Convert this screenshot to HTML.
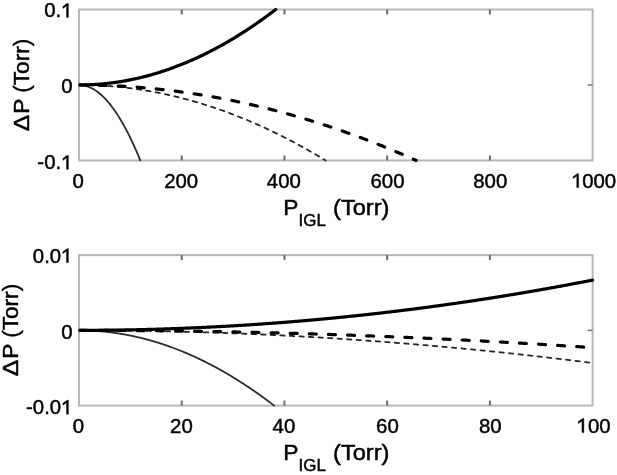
<!DOCTYPE html>
<html><head><meta charset="utf-8"><style>
html,body{margin:0;padding:0;background:#fff;width:617px;height:475px;overflow:hidden}
svg{display:block;filter:blur(0.55px)}
text{font-family:"Liberation Sans",sans-serif;fill:#000;stroke:#000;stroke-width:0.45px}
</style></head><body>
<svg width="617" height="475" viewBox="0 0 617 475">
<rect width="617" height="475" fill="#fff"/>
<clipPath id="c9"><rect x="78.6" y="3.5" width="521.60" height="162.95"/></clipPath>
<rect x="79" y="9.5" width="513.60" height="150.95" fill="none" stroke="#b7b7b7" stroke-width="2.0"/>
<line x1="181.72" y1="160.45" x2="181.72" y2="155.45" stroke="#666666" stroke-width="1.9"/>
<line x1="181.72" y1="9.5" x2="181.72" y2="14.5" stroke="#666666" stroke-width="1.9"/>
<line x1="284.44" y1="160.45" x2="284.44" y2="155.45" stroke="#666666" stroke-width="1.9"/>
<line x1="284.44" y1="9.5" x2="284.44" y2="14.5" stroke="#666666" stroke-width="1.9"/>
<line x1="387.16" y1="160.45" x2="387.16" y2="155.45" stroke="#666666" stroke-width="1.9"/>
<line x1="387.16" y1="9.5" x2="387.16" y2="14.5" stroke="#666666" stroke-width="1.9"/>
<line x1="489.88" y1="160.45" x2="489.88" y2="155.45" stroke="#666666" stroke-width="1.9"/>
<line x1="489.88" y1="9.5" x2="489.88" y2="14.5" stroke="#666666" stroke-width="1.9"/>
<line x1="79" y1="84.97" x2="84.0" y2="84.97" stroke="#666666" stroke-width="1.9"/>
<line x1="592.6" y1="84.97" x2="587.6" y2="84.97" stroke="#7c7c7c" stroke-width="1.6"/>
<g clip-path="url(#c9)" fill="none" stroke="#000" stroke-linejoin="round" stroke-linecap="round"><polyline points="79.00,84.97 79.64,84.98 80.29,85.01 80.93,85.05 81.57,85.11 82.21,85.18 82.86,85.27 83.50,85.38 84.14,85.51 84.79,85.65 85.43,85.80 86.07,85.98 86.71,86.17 87.36,86.38 88.00,86.60 88.64,86.84 89.28,87.10 89.93,87.37 90.57,87.66 91.21,87.97 91.86,88.29 92.50,88.64 93.14,88.99 93.78,89.37 94.43,89.76 95.07,90.16 95.71,90.59 96.36,91.03 97.00,91.48 97.64,91.95 98.28,92.44 98.93,92.95 99.57,93.47 100.21,94.01 100.86,94.57 101.50,95.14 102.14,95.73 102.78,96.34 103.43,96.96 104.07,97.60 104.71,98.25 105.35,98.93 106.00,99.62 106.64,100.32 107.28,101.04 107.93,101.78 108.57,102.54 109.21,103.31 109.85,104.10 110.50,104.90 111.14,105.72 111.78,106.56 112.43,107.42 113.07,108.29 113.71,109.18 114.35,110.08 115.00,111.00 115.64,111.94 116.28,112.89 116.93,113.87 117.57,114.85 118.21,115.86 118.85,116.88 119.50,117.92 120.14,118.97 120.78,120.04 121.43,121.13 122.07,122.23 122.71,123.35 123.35,124.49 124.00,125.64 124.64,126.81 125.28,128.00 125.92,129.20 126.57,130.42 127.21,131.66 127.85,132.91 128.50,134.18 129.14,135.47 129.78,136.77 130.42,138.09 131.07,139.43 131.71,140.78 132.35,142.15 133.00,143.54 133.64,144.94 134.28,146.36 134.92,147.79 135.57,149.25 136.21,150.71 136.85,152.20 137.50,153.70 138.14,155.22 138.78,156.76 139.42,158.31 140.07,159.88 140.30,160.45" stroke-width="1.8" stroke="#2a2a2a"/><polyline points="79.00,84.97 79.64,84.98 80.29,84.98 80.93,84.98 81.57,84.98 82.21,84.99 82.86,84.99 83.50,85.00 84.14,85.01 84.79,85.02 85.43,85.03 86.07,85.04 86.71,85.05 87.36,85.06 88.00,85.08 88.64,85.09 89.28,85.11 89.93,85.12 90.57,85.14 91.21,85.16 91.86,85.18 92.50,85.20 93.14,85.22 93.78,85.25 94.43,85.27 95.07,85.30 95.71,85.32 96.36,85.35 97.00,85.38 97.64,85.41 98.28,85.44 98.93,85.47 99.57,85.50 100.21,85.53 100.86,85.57 101.50,85.60 102.14,85.64 102.78,85.68 103.43,85.72 104.07,85.76 104.71,85.80 105.35,85.84 106.00,85.88 106.64,85.92 107.28,85.97 107.93,86.01 108.57,86.06 109.21,86.11 109.85,86.16 110.50,86.21 111.14,86.26 111.78,86.31 112.43,86.36 113.07,86.42 113.71,86.47 114.35,86.53 115.00,86.58 115.64,86.64 116.28,86.70 116.93,86.76 117.57,86.82 118.21,86.88 118.85,86.95 119.50,87.01 120.14,87.08 120.78,87.14 121.43,87.21 122.07,87.28 122.71,87.35 123.35,87.42 124.00,87.49 124.64,87.56 125.28,87.63 125.92,87.71 126.57,87.78 127.21,87.86 127.85,87.94 128.50,88.02 129.14,88.10 129.78,88.18 130.42,88.26 131.07,88.34 131.71,88.43 132.35,88.51 133.00,88.60 133.64,88.68 134.28,88.77 134.92,88.86 135.57,88.95 136.21,89.04 136.85,89.13 137.50,89.22 138.14,89.32 138.78,89.41 139.42,89.51 140.07,89.61 140.71,89.70 141.35,89.80 141.99,89.90 142.64,90.00 143.28,90.11 143.92,90.21 144.57,90.31 145.21,90.42 145.85,90.52 146.49,90.63 147.14,90.74 147.78,90.85 148.42,90.96 149.07,91.07 149.71,91.18 150.35,91.30 150.99,91.41 151.64,91.53 152.28,91.64 152.92,91.76 153.57,91.88 154.21,92.00 154.85,92.12 155.49,92.24 156.14,92.36 156.78,92.49 157.42,92.61 158.06,92.74 158.71,92.86 159.35,92.99 159.99,93.12 160.64,93.25 161.28,93.38 161.92,93.51 162.56,93.65 163.21,93.78 163.85,93.92 164.49,94.05 165.14,94.19 165.78,94.33 166.42,94.47 167.06,94.61 167.71,94.75 168.35,94.89 168.99,95.03 169.64,95.18 170.28,95.32 170.92,95.47 171.56,95.61 172.21,95.76 172.85,95.91 173.49,96.06 174.13,96.21 174.78,96.37 175.42,96.52 176.06,96.67 176.71,96.83 177.35,96.99 177.99,97.14 178.63,97.30 179.28,97.46 179.92,97.62 180.56,97.78 181.21,97.95 181.85,98.11 182.49,98.27 183.13,98.44 183.78,98.61 184.42,98.78 185.06,98.94 185.71,99.11 186.35,99.28 186.99,99.46 187.63,99.63 188.28,99.80 188.92,99.98 189.56,100.15 190.21,100.33 190.85,100.51 191.49,100.69 192.13,100.87 192.78,101.05 193.42,101.23 194.06,101.42 194.70,101.60 195.35,101.78 195.99,101.97 196.63,102.16 197.28,102.35 197.92,102.54 198.56,102.73 199.20,102.92 199.85,103.11 200.49,103.30 201.13,103.50 201.78,103.69 202.42,103.89 203.06,104.09 203.70,104.29 204.35,104.49 204.99,104.69 205.63,104.89 206.28,105.09 206.92,105.29 207.56,105.50 208.20,105.70 208.85,105.91 209.49,106.12 210.13,106.33 210.77,106.54 211.42,106.75 212.06,106.96 212.70,107.17 213.35,107.39 213.99,107.60 214.63,107.82 215.27,108.04 215.92,108.25 216.56,108.47 217.20,108.69 217.85,108.91 218.49,109.14 219.13,109.36 219.77,109.58 220.42,109.81 221.06,110.04 221.70,110.26 222.35,110.49 222.99,110.72 223.63,110.95 224.27,111.18 224.92,111.41 225.56,111.65 226.20,111.88 226.84,112.12 227.49,112.35 228.13,112.59 228.77,112.83 229.42,113.07 230.06,113.31 230.70,113.55 231.34,113.80 231.99,114.04 232.63,114.28 233.27,114.53 233.92,114.78 234.56,115.02 235.20,115.27 235.84,115.52 236.49,115.77 237.13,116.03 237.77,116.28 238.42,116.53 239.06,116.79 239.70,117.04 240.34,117.30 240.99,117.56 241.63,117.82 242.27,118.08 242.91,118.34 243.56,118.60 244.20,118.86 244.84,119.13 245.49,119.39 246.13,119.66 246.77,119.93 247.41,120.20 248.06,120.47 248.70,120.74 249.34,121.01 249.99,121.28 250.63,121.55 251.27,121.83 251.91,122.10 252.56,122.38 253.20,122.66 253.84,122.94 254.49,123.22 255.13,123.50 255.77,123.78 256.41,124.06 257.06,124.34 257.70,124.63 258.34,124.91 258.98,125.20 259.63,125.49 260.27,125.78 260.91,126.07 261.56,126.36 262.20,126.65 262.84,126.94 263.48,127.24 264.13,127.53 264.77,127.83 265.41,128.13 266.06,128.42 266.70,128.72 267.34,129.02 267.98,129.33 268.63,129.63 269.27,129.93 269.91,130.23 270.56,130.54 271.20,130.85 271.84,131.15 272.48,131.46 273.13,131.77 273.77,132.08 274.41,132.39 275.06,132.71 275.70,133.02 276.34,133.33 276.98,133.65 277.63,133.97 278.27,134.28 278.91,134.60 279.55,134.92 280.20,135.24 280.84,135.56 281.48,135.89 282.13,136.21 282.77,136.54 283.41,136.86 284.05,137.19 284.70,137.52 285.34,137.85 285.98,138.17 286.63,138.51 287.27,138.84 287.91,139.17 288.55,139.50 289.20,139.84 289.84,140.18 290.48,140.51 291.13,140.85 291.77,141.19 292.41,141.53 293.05,141.87 293.70,142.21 294.34,142.56 294.98,142.90 295.62,143.25 296.27,143.59 296.91,143.94 297.55,144.29 298.20,144.64 298.84,144.99 299.48,145.34 300.12,145.69 300.77,146.05 301.41,146.40 302.05,146.76 302.70,147.11 303.34,147.47 303.98,147.83 304.62,148.19 305.27,148.55 305.91,148.91 306.55,149.27 307.20,149.64 307.84,150.00 308.48,150.37 309.12,150.74 309.77,151.10 310.41,151.47 311.05,151.84 311.69,152.21 312.34,152.59 312.98,152.96 313.62,153.33 314.27,153.71 314.91,154.08 315.55,154.46 316.19,154.84 316.84,155.22 317.48,155.60 318.12,155.98 318.77,156.36 319.41,156.74 320.05,157.13 320.69,157.51 321.34,157.90 321.98,158.29 322.62,158.68 323.27,159.07 323.91,159.46 324.55,159.85 325.19,160.24 325.54,160.45" stroke-width="1.8" stroke="#262626" stroke-dasharray="4.4 5.16" stroke-dashoffset="-0.6" stroke-linecap="round"/><polyline points="79.00,84.97 79.64,84.98 80.29,84.98 80.93,84.98 81.57,84.98 82.21,84.98 82.86,84.98 83.50,84.99 84.14,84.99 84.79,85.00 85.43,85.00 86.07,85.01 86.71,85.01 87.36,85.02 88.00,85.03 88.64,85.04 89.28,85.05 89.93,85.05 90.57,85.06 91.21,85.07 91.86,85.08 92.50,85.10 93.14,85.11 93.78,85.12 94.43,85.13 95.07,85.15 95.71,85.16 96.36,85.17 97.00,85.19 97.64,85.21 98.28,85.22 98.93,85.24 99.57,85.26 100.21,85.27 100.86,85.29 101.50,85.31 102.14,85.33 102.78,85.35 103.43,85.37 104.07,85.39 104.71,85.41 105.35,85.44 106.00,85.46 106.64,85.48 107.28,85.51 107.93,85.53 108.57,85.56 109.21,85.58 109.85,85.61 110.50,85.63 111.14,85.66 111.78,85.69 112.43,85.72 113.07,85.75 113.71,85.77 114.35,85.80 115.00,85.84 115.64,85.87 116.28,85.90 116.93,85.93 117.57,85.96 118.21,86.00 118.85,86.03 119.50,86.06 120.14,86.10 120.78,86.13 121.43,86.17 122.07,86.21 122.71,86.24 123.35,86.28 124.00,86.32 124.64,86.36 125.28,86.40 125.92,86.44 126.57,86.48 127.21,86.52 127.85,86.56 128.50,86.60 129.14,86.64 129.78,86.69 130.42,86.73 131.07,86.77 131.71,86.82 132.35,86.86 133.00,86.91 133.64,86.96 134.28,87.00 134.92,87.05 135.57,87.10 136.21,87.15 136.85,87.20 137.50,87.25 138.14,87.30 138.78,87.35 139.42,87.40 140.07,87.45 140.71,87.50 141.35,87.56 141.99,87.61 142.64,87.66 143.28,87.72 143.92,87.77 144.57,87.83 145.21,87.88 145.85,87.94 146.49,88.00 147.14,88.06 147.78,88.12 148.42,88.17 149.07,88.23 149.71,88.29 150.35,88.35 150.99,88.42 151.64,88.48 152.28,88.54 152.92,88.60 153.57,88.67 154.21,88.73 154.85,88.79 155.49,88.86 156.14,88.92 156.78,88.99 157.42,89.06 158.06,89.12 158.71,89.19 159.35,89.26 159.99,89.33 160.64,89.40 161.28,89.47 161.92,89.54 162.56,89.61 163.21,89.68 163.85,89.75 164.49,89.83 165.14,89.90 165.78,89.97 166.42,90.05 167.06,90.12 167.71,90.20 168.35,90.27 168.99,90.35 169.64,90.43 170.28,90.51 170.92,90.58 171.56,90.66 172.21,90.74 172.85,90.82 173.49,90.90 174.13,90.98 174.78,91.06 175.42,91.15 176.06,91.23 176.71,91.31 177.35,91.40 177.99,91.48 178.63,91.56 179.28,91.65 179.92,91.74 180.56,91.82 181.21,91.91 181.85,92.00 182.49,92.08 183.13,92.17 183.78,92.26 184.42,92.35 185.06,92.44 185.71,92.53 186.35,92.62 186.99,92.72 187.63,92.81 188.28,92.90 188.92,93.00 189.56,93.09 190.21,93.18 190.85,93.28 191.49,93.37 192.13,93.47 192.78,93.57 193.42,93.67 194.06,93.76 194.70,93.86 195.35,93.96 195.99,94.06 196.63,94.16 197.28,94.26 197.92,94.36 198.56,94.46 199.20,94.57 199.85,94.67 200.49,94.77 201.13,94.88 201.78,94.98 202.42,95.09 203.06,95.19 203.70,95.30 204.35,95.40 204.99,95.51 205.63,95.62 206.28,95.73 206.92,95.84 207.56,95.95 208.20,96.06 208.85,96.17 209.49,96.28 210.13,96.39 210.77,96.50 211.42,96.61 212.06,96.73 212.70,96.84 213.35,96.96 213.99,97.07 214.63,97.19 215.27,97.30 215.92,97.42 216.56,97.54 217.20,97.65 217.85,97.77 218.49,97.89 219.13,98.01 219.77,98.13 220.42,98.25 221.06,98.37 221.70,98.49 222.35,98.61 222.99,98.74 223.63,98.86 224.27,98.98 224.92,99.11 225.56,99.23 226.20,99.36 226.84,99.48 227.49,99.61 228.13,99.74 228.77,99.87 229.42,99.99 230.06,100.12 230.70,100.25 231.34,100.38 231.99,100.51 232.63,100.64 233.27,100.77 233.92,100.91 234.56,101.04 235.20,101.17 235.84,101.30 236.49,101.44 237.13,101.57 237.77,101.71 238.42,101.84 239.06,101.98 239.70,102.12 240.34,102.26 240.99,102.39 241.63,102.53 242.27,102.67 242.91,102.81 243.56,102.95 244.20,103.09 244.84,103.23 245.49,103.37 246.13,103.52 246.77,103.66 247.41,103.80 248.06,103.95 248.70,104.09 249.34,104.24 249.99,104.38 250.63,104.53 251.27,104.68 251.91,104.82 252.56,104.97 253.20,105.12 253.84,105.27 254.49,105.42 255.13,105.57 255.77,105.72 256.41,105.87 257.06,106.02 257.70,106.17 258.34,106.33 258.98,106.48 259.63,106.63 260.27,106.79 260.91,106.94 261.56,107.10 262.20,107.25 262.84,107.41 263.48,107.57 264.13,107.73 264.77,107.88 265.41,108.04 266.06,108.20 266.70,108.36 267.34,108.52 267.98,108.68 268.63,108.84 269.27,109.01 269.91,109.17 270.56,109.33 271.20,109.50 271.84,109.66 272.48,109.83 273.13,109.99 273.77,110.16 274.41,110.32 275.06,110.49 275.70,110.66 276.34,110.83 276.98,110.99 277.63,111.16 278.27,111.33 278.91,111.50 279.55,111.67 280.20,111.85 280.84,112.02 281.48,112.19 282.13,112.36 282.77,112.54 283.41,112.71 284.05,112.89 284.70,113.06 285.34,113.24 285.98,113.41 286.63,113.59 287.27,113.77 287.91,113.95 288.55,114.12 289.20,114.30 289.84,114.48 290.48,114.66 291.13,114.84 291.77,115.03 292.41,115.21 293.05,115.39 293.70,115.57 294.34,115.76 294.98,115.94 295.62,116.12 296.27,116.31 296.91,116.50 297.55,116.68 298.20,116.87 298.84,117.06 299.48,117.24 300.12,117.43 300.77,117.62 301.41,117.81 302.05,118.00 302.70,118.19 303.34,118.38 303.98,118.57 304.62,118.77 305.27,118.96 305.91,119.15 306.55,119.35 307.20,119.54 307.84,119.74 308.48,119.93 309.12,120.13 309.77,120.32 310.41,120.52 311.05,120.72 311.69,120.92 312.34,121.12 312.98,121.32 313.62,121.52 314.27,121.72 314.91,121.92 315.55,122.12 316.19,122.32 316.84,122.52 317.48,122.73 318.12,122.93 318.77,123.14 319.41,123.34 320.05,123.55 320.69,123.75 321.34,123.96 321.98,124.17 322.62,124.37 323.27,124.58 323.91,124.79 324.55,125.00 325.19,125.21 325.84,125.42 326.48,125.63 327.12,125.84 327.76,126.05 328.41,126.27 329.05,126.48 329.69,126.69 330.34,126.91 330.98,127.12 331.62,127.34 332.26,127.55 332.91,127.77 333.55,127.99 334.19,128.20 334.84,128.42 335.48,128.64 336.12,128.86 336.76,129.08 337.41,129.30 338.05,129.52 338.69,129.74 339.34,129.96 339.98,130.19 340.62,130.41 341.26,130.63 341.91,130.86 342.55,131.08 343.19,131.31 343.84,131.53 344.48,131.76 345.12,131.99 345.76,132.21 346.41,132.44 347.05,132.67 347.69,132.90 348.33,133.13 348.98,133.36 349.62,133.59 350.26,133.82 350.91,134.05 351.55,134.28 352.19,134.52 352.83,134.75 353.48,134.98 354.12,135.22 354.76,135.45 355.41,135.69 356.05,135.93 356.69,136.16 357.33,136.40 357.98,136.64 358.62,136.88 359.26,137.11 359.91,137.35 360.55,137.59 361.19,137.83 361.83,138.08 362.48,138.32 363.12,138.56 363.76,138.80 364.40,139.05 365.05,139.29 365.69,139.53 366.33,139.78 366.98,140.02 367.62,140.27 368.26,140.52 368.90,140.76 369.55,141.01 370.19,141.26 370.83,141.51 371.48,141.76 372.12,142.01 372.76,142.26 373.40,142.51 374.05,142.76 374.69,143.01 375.33,143.27 375.98,143.52 376.62,143.77 377.26,144.03 377.90,144.28 378.55,144.54 379.19,144.79 379.83,145.05 380.47,145.31 381.12,145.56 381.76,145.82 382.40,146.08 383.05,146.34 383.69,146.60 384.33,146.86 384.97,147.12 385.62,147.38 386.26,147.64 386.90,147.91 387.55,148.17 388.19,148.43 388.83,148.70 389.47,148.96 390.12,149.23 390.76,149.49 391.40,149.76 392.05,150.03 392.69,150.29 393.33,150.56 393.97,150.83 394.62,151.10 395.26,151.37 395.90,151.64 396.54,151.91 397.19,152.18 397.83,152.45 398.47,152.73 399.12,153.00 399.76,153.27 400.40,153.55 401.04,153.82 401.69,154.10 402.33,154.37 402.97,154.65 403.62,154.92 404.26,155.20 404.90,155.48 405.54,155.76 406.19,156.04 406.83,156.32 407.47,156.60 408.12,156.88 408.76,157.16 409.40,157.44 410.04,157.72 410.69,158.00 411.33,158.29 411.97,158.57 412.62,158.86 413.26,159.14 413.90,159.43 414.54,159.71 415.19,160.00 415.83,160.29 416.19,160.45" stroke-width="3.2" stroke-dasharray="7 12.12" stroke-dashoffset="-0.9" stroke-linecap="round"/><polyline points="79.00,84.97 79.64,84.97 80.29,84.97 80.93,84.97 81.57,84.96 82.21,84.95 82.86,84.95 83.50,84.94 84.14,84.92 84.79,84.91 85.43,84.89 86.07,84.88 86.71,84.86 87.36,84.84 88.00,84.82 88.64,84.79 89.28,84.77 89.93,84.74 90.57,84.71 91.21,84.68 91.86,84.65 92.50,84.62 93.14,84.58 93.78,84.55 94.43,84.51 95.07,84.47 95.71,84.43 96.36,84.39 97.00,84.34 97.64,84.30 98.28,84.25 98.93,84.20 99.57,84.15 100.21,84.10 100.86,84.04 101.50,83.99 102.14,83.93 102.78,83.87 103.43,83.81 104.07,83.75 104.71,83.68 105.35,83.62 106.00,83.55 106.64,83.48 107.28,83.41 107.93,83.34 108.57,83.27 109.21,83.19 109.85,83.12 110.50,83.04 111.14,82.96 111.78,82.88 112.43,82.79 113.07,82.71 113.71,82.62 114.35,82.54 115.00,82.45 115.64,82.36 116.28,82.26 116.93,82.17 117.57,82.07 118.21,81.97 118.85,81.88 119.50,81.77 120.14,81.67 120.78,81.57 121.43,81.46 122.07,81.36 122.71,81.25 123.35,81.14 124.00,81.02 124.64,80.91 125.28,80.80 125.92,80.68 126.57,80.56 127.21,80.44 127.85,80.32 128.50,80.19 129.14,80.07 129.78,79.94 130.42,79.81 131.07,79.68 131.71,79.55 132.35,79.42 133.00,79.29 133.64,79.15 134.28,79.01 134.92,78.87 135.57,78.73 136.21,78.59 136.85,78.44 137.50,78.30 138.14,78.15 138.78,78.00 139.42,77.85 140.07,77.70 140.71,77.54 141.35,77.39 141.99,77.23 142.64,77.07 143.28,76.91 143.92,76.75 144.57,76.59 145.21,76.42 145.85,76.25 146.49,76.09 147.14,75.92 147.78,75.74 148.42,75.57 149.07,75.40 149.71,75.22 150.35,75.04 150.99,74.86 151.64,74.68 152.28,74.50 152.92,74.31 153.57,74.13 154.21,73.94 154.85,73.75 155.49,73.56 156.14,73.36 156.78,73.17 157.42,72.97 158.06,72.78 158.71,72.58 159.35,72.38 159.99,72.17 160.64,71.97 161.28,71.76 161.92,71.56 162.56,71.35 163.21,71.14 163.85,70.93 164.49,70.71 165.14,70.50 165.78,70.28 166.42,70.06 167.06,69.84 167.71,69.62 168.35,69.40 168.99,69.17 169.64,68.95 170.28,68.72 170.92,68.49 171.56,68.26 172.21,68.02 172.85,67.79 173.49,67.55 174.13,67.31 174.78,67.07 175.42,66.83 176.06,66.59 176.71,66.35 177.35,66.10 177.99,65.85 178.63,65.60 179.28,65.35 179.92,65.10 180.56,64.85 181.21,64.59 181.85,64.33 182.49,64.08 183.13,63.81 183.78,63.55 184.42,63.29 185.06,63.02 185.71,62.76 186.35,62.49 186.99,62.22 187.63,61.95 188.28,61.67 188.92,61.40 189.56,61.12 190.21,60.84 190.85,60.56 191.49,60.28 192.13,60.00 192.78,59.71 193.42,59.43 194.06,59.14 194.70,58.85 195.35,58.56 195.99,58.27 196.63,57.97 197.28,57.68 197.92,57.38 198.56,57.08 199.20,56.78 199.85,56.48 200.49,56.17 201.13,55.87 201.78,55.56 202.42,55.25 203.06,54.94 203.70,54.63 204.35,54.32 204.99,54.00 205.63,53.68 206.28,53.37 206.92,53.04 207.56,52.72 208.20,52.40 208.85,52.07 209.49,51.75 210.13,51.42 210.77,51.09 211.42,50.76 212.06,50.43 212.70,50.09 213.35,49.76 213.99,49.42 214.63,49.08 215.27,48.74 215.92,48.39 216.56,48.05 217.20,47.70 217.85,47.36 218.49,47.01 219.13,46.66 219.77,46.30 220.42,45.95 221.06,45.59 221.70,45.24 222.35,44.88 222.99,44.52 223.63,44.16 224.27,43.79 224.92,43.43 225.56,43.06 226.20,42.69 226.84,42.32 227.49,41.95 228.13,41.58 228.77,41.20 229.42,40.83 230.06,40.45 230.70,40.07 231.34,39.69 231.99,39.30 232.63,38.92 233.27,38.53 233.92,38.14 234.56,37.76 235.20,37.36 235.84,36.97 236.49,36.58 237.13,36.18 237.77,35.78 238.42,35.38 239.06,34.98 239.70,34.58 240.34,34.18 240.99,33.77 241.63,33.36 242.27,32.96 242.91,32.55 243.56,32.13 244.20,31.72 244.84,31.30 245.49,30.89 246.13,30.47 246.77,30.05 247.41,29.63 248.06,29.20 248.70,28.78 249.34,28.35 249.99,27.92 250.63,27.50 251.27,27.06 251.91,26.63 252.56,26.20 253.20,25.76 253.84,25.32 254.49,24.88 255.13,24.44 255.77,24.00 256.41,23.55 257.06,23.11 257.70,22.66 258.34,22.21 258.98,21.76 259.63,21.31 260.27,20.86 260.91,20.40 261.56,19.94 262.20,19.48 262.84,19.02 263.48,18.56 264.13,18.10 264.77,17.63 265.41,17.17 266.06,16.70 266.70,16.23 267.34,15.76 267.98,15.28 268.63,14.81 269.27,14.33 269.91,13.85 270.56,13.37 271.20,12.89 271.84,12.41 272.48,11.92 273.13,11.44 273.77,10.95 274.41,10.46 275.06,9.97 275.67,9.50" stroke-width="3.2"/></g>
<clipPath id="c255"><rect x="78.6" y="249.1" width="521.60" height="162.50"/></clipPath>
<rect x="79" y="255.1" width="513.60" height="150.50" fill="none" stroke="#b7b7b7" stroke-width="2.0"/>
<line x1="181.72" y1="405.6" x2="181.72" y2="400.6" stroke="#666666" stroke-width="1.9"/>
<line x1="181.72" y1="255.1" x2="181.72" y2="260.1" stroke="#666666" stroke-width="1.9"/>
<line x1="284.44" y1="405.6" x2="284.44" y2="400.6" stroke="#666666" stroke-width="1.9"/>
<line x1="284.44" y1="255.1" x2="284.44" y2="260.1" stroke="#666666" stroke-width="1.9"/>
<line x1="387.16" y1="405.6" x2="387.16" y2="400.6" stroke="#666666" stroke-width="1.9"/>
<line x1="387.16" y1="255.1" x2="387.16" y2="260.1" stroke="#666666" stroke-width="1.9"/>
<line x1="489.88" y1="405.6" x2="489.88" y2="400.6" stroke="#666666" stroke-width="1.9"/>
<line x1="489.88" y1="255.1" x2="489.88" y2="260.1" stroke="#666666" stroke-width="1.9"/>
<line x1="79" y1="330.35" x2="84.0" y2="330.35" stroke="#666666" stroke-width="1.9"/>
<line x1="592.6" y1="330.35" x2="587.6" y2="330.35" stroke="#7c7c7c" stroke-width="1.6"/>
<g clip-path="url(#c255)" fill="none" stroke="#000" stroke-linejoin="round" stroke-linecap="round"><polyline points="79.00,330.35 79.64,330.35 80.29,330.35 80.93,330.36 81.57,330.36 82.21,330.37 82.86,330.38 83.50,330.39 84.14,330.40 84.79,330.42 85.43,330.43 86.07,330.45 86.71,330.47 87.36,330.49 88.00,330.51 88.64,330.53 89.28,330.56 89.93,330.59 90.57,330.61 91.21,330.64 91.86,330.68 92.50,330.71 93.14,330.75 93.78,330.78 94.43,330.82 95.07,330.86 95.71,330.90 96.36,330.95 97.00,330.99 97.64,331.04 98.28,331.09 98.93,331.13 99.57,331.19 100.21,331.24 100.86,331.29 101.50,331.35 102.14,331.41 102.78,331.47 103.43,331.53 104.07,331.59 104.71,331.66 105.35,331.72 106.00,331.79 106.64,331.86 107.28,331.93 107.93,332.00 108.57,332.08 109.21,332.15 109.85,332.23 110.50,332.31 111.14,332.39 111.78,332.47 112.43,332.56 113.07,332.64 113.71,332.73 114.35,332.82 115.00,332.91 115.64,333.00 116.28,333.10 116.93,333.19 117.57,333.29 118.21,333.39 118.85,333.49 119.50,333.59 120.14,333.70 120.78,333.80 121.43,333.91 122.07,334.02 122.71,334.13 123.35,334.24 124.00,334.35 124.64,334.47 125.28,334.58 125.92,334.70 126.57,334.82 127.21,334.94 127.85,335.07 128.50,335.19 129.14,335.32 129.78,335.45 130.42,335.58 131.07,335.71 131.71,335.84 132.35,335.98 133.00,336.11 133.64,336.25 134.28,336.39 134.92,336.53 135.57,336.68 136.21,336.82 136.85,336.97 137.50,337.11 138.14,337.26 138.78,337.41 139.42,337.57 140.07,337.72 140.71,337.88 141.35,338.04 141.99,338.20 142.64,338.36 143.28,338.52 143.92,338.68 144.57,338.85 145.21,339.02 145.85,339.19 146.49,339.36 147.14,339.53 147.78,339.70 148.42,339.88 149.07,340.06 149.71,340.23 150.35,340.41 150.99,340.60 151.64,340.78 152.28,340.97 152.92,341.15 153.57,341.34 154.21,341.53 154.85,341.72 155.49,341.92 156.14,342.11 156.78,342.31 157.42,342.51 158.06,342.71 158.71,342.91 159.35,343.11 159.99,343.32 160.64,343.53 161.28,343.73 161.92,343.94 162.56,344.15 163.21,344.37 163.85,344.58 164.49,344.80 165.14,345.02 165.78,345.24 166.42,345.46 167.06,345.68 167.71,345.91 168.35,346.13 168.99,346.36 169.64,346.59 170.28,346.82 170.92,347.05 171.56,347.29 172.21,347.52 172.85,347.76 173.49,348.00 174.13,348.24 174.78,348.49 175.42,348.73 176.06,348.98 176.71,349.22 177.35,349.47 177.99,349.72 178.63,349.97 179.28,350.23 179.92,350.48 180.56,350.74 181.21,351.00 181.85,351.26 182.49,351.52 183.13,351.79 183.78,352.05 184.42,352.32 185.06,352.59 185.71,352.86 186.35,353.13 186.99,353.40 187.63,353.68 188.28,353.96 188.92,354.24 189.56,354.52 190.21,354.80 190.85,355.08 191.49,355.37 192.13,355.65 192.78,355.94 193.42,356.23 194.06,356.52 194.70,356.82 195.35,357.11 195.99,357.41 196.63,357.71 197.28,358.01 197.92,358.31 198.56,358.61 199.20,358.91 199.85,359.22 200.49,359.53 201.13,359.84 201.78,360.15 202.42,360.46 203.06,360.78 203.70,361.09 204.35,361.41 204.99,361.73 205.63,362.05 206.28,362.37 206.92,362.70 207.56,363.02 208.20,363.35 208.85,363.68 209.49,364.01 210.13,364.34 210.77,364.68 211.42,365.01 212.06,365.35 212.70,365.69 213.35,366.03 213.99,366.37 214.63,366.72 215.27,367.06 215.92,367.41 216.56,367.76 217.20,368.11 217.85,368.46 218.49,368.81 219.13,369.17 219.77,369.53 220.42,369.89 221.06,370.25 221.70,370.61 222.35,370.97 222.99,371.34 223.63,371.70 224.27,372.07 224.92,372.44 225.56,372.81 226.20,373.19 226.84,373.56 227.49,373.94 228.13,374.32 228.77,374.70 229.42,375.08 230.06,375.46 230.70,375.85 231.34,376.23 231.99,376.62 232.63,377.01 233.27,377.40 233.92,377.79 234.56,378.19 235.20,378.58 235.84,378.98 236.49,379.38 237.13,379.78 237.77,380.19 238.42,380.59 239.06,381.00 239.70,381.40 240.34,381.81 240.99,382.22 241.63,382.64 242.27,383.05 242.91,383.47 243.56,383.88 244.20,384.30 244.84,384.72 245.49,385.15 246.13,385.57 246.77,386.00 247.41,386.42 248.06,386.85 248.70,387.28 249.34,387.71 249.99,388.15 250.63,388.58 251.27,389.02 251.91,389.46 252.56,389.90 253.20,390.34 253.84,390.78 254.49,391.23 255.13,391.68 255.77,392.12 256.41,392.57 257.06,393.03 257.70,393.48 258.34,393.93 258.98,394.39 259.63,394.85 260.27,395.31 260.91,395.77 261.56,396.23 262.20,396.70 262.84,397.17 263.48,397.63 264.13,398.10 264.77,398.57 265.41,399.05 266.06,399.52 266.70,400.00 267.34,400.48 267.98,400.96 268.63,401.44 269.27,401.92 269.91,402.40 270.56,402.89 271.20,403.38 271.84,403.87 272.48,404.36 273.13,404.85 273.77,405.34 274.10,405.60" stroke-width="1.8" stroke="#2a2a2a"/><polyline points="79.00,330.35 79.64,330.35 80.29,330.35 80.93,330.35 81.57,330.35 82.21,330.35 82.86,330.35 83.50,330.35 84.14,330.35 84.79,330.35 85.43,330.36 86.07,330.36 86.71,330.36 87.36,330.36 88.00,330.36 88.64,330.36 89.28,330.36 89.93,330.36 90.57,330.37 91.21,330.37 91.86,330.37 92.50,330.37 93.14,330.37 93.78,330.38 94.43,330.38 95.07,330.38 95.71,330.38 96.36,330.39 97.00,330.39 97.64,330.39 98.28,330.40 98.93,330.40 99.57,330.40 100.21,330.41 100.86,330.41 101.50,330.41 102.14,330.42 102.78,330.42 103.43,330.42 104.07,330.43 104.71,330.43 105.35,330.44 106.00,330.44 106.64,330.44 107.28,330.45 107.93,330.45 108.57,330.46 109.21,330.46 109.85,330.47 110.50,330.47 111.14,330.48 111.78,330.48 112.43,330.49 113.07,330.49 113.71,330.50 114.35,330.50 115.00,330.51 115.64,330.52 116.28,330.52 116.93,330.53 117.57,330.53 118.21,330.54 118.85,330.55 119.50,330.55 120.14,330.56 120.78,330.57 121.43,330.57 122.07,330.58 122.71,330.59 123.35,330.59 124.00,330.60 124.64,330.61 125.28,330.62 125.92,330.62 126.57,330.63 127.21,330.64 127.85,330.65 128.50,330.65 129.14,330.66 129.78,330.67 130.42,330.68 131.07,330.69 131.71,330.69 132.35,330.70 133.00,330.71 133.64,330.72 134.28,330.73 134.92,330.74 135.57,330.75 136.21,330.76 136.85,330.76 137.50,330.77 138.14,330.78 138.78,330.79 139.42,330.80 140.07,330.81 140.71,330.82 141.35,330.83 141.99,330.84 142.64,330.85 143.28,330.86 143.92,330.87 144.57,330.88 145.21,330.89 145.85,330.90 146.49,330.91 147.14,330.92 147.78,330.94 148.42,330.95 149.07,330.96 149.71,330.97 150.35,330.98 150.99,330.99 151.64,331.00 152.28,331.01 152.92,331.03 153.57,331.04 154.21,331.05 154.85,331.06 155.49,331.07 156.14,331.09 156.78,331.10 157.42,331.11 158.06,331.12 158.71,331.14 159.35,331.15 159.99,331.16 160.64,331.18 161.28,331.19 161.92,331.20 162.56,331.21 163.21,331.23 163.85,331.24 164.49,331.25 165.14,331.27 165.78,331.28 166.42,331.30 167.06,331.31 167.71,331.32 168.35,331.34 168.99,331.35 169.64,331.37 170.28,331.38 170.92,331.40 171.56,331.41 172.21,331.43 172.85,331.44 173.49,331.46 174.13,331.47 174.78,331.49 175.42,331.50 176.06,331.52 176.71,331.53 177.35,331.55 177.99,331.56 178.63,331.58 179.28,331.59 179.92,331.61 180.56,331.63 181.21,331.64 181.85,331.66 182.49,331.68 183.13,331.69 183.78,331.71 184.42,331.73 185.06,331.74 185.71,331.76 186.35,331.78 186.99,331.79 187.63,331.81 188.28,331.83 188.92,331.85 189.56,331.86 190.21,331.88 190.85,331.90 191.49,331.92 192.13,331.93 192.78,331.95 193.42,331.97 194.06,331.99 194.70,332.01 195.35,332.03 195.99,332.04 196.63,332.06 197.28,332.08 197.92,332.10 198.56,332.12 199.20,332.14 199.85,332.16 200.49,332.18 201.13,332.20 201.78,332.22 202.42,332.24 203.06,332.26 203.70,332.28 204.35,332.30 204.99,332.32 205.63,332.34 206.28,332.36 206.92,332.38 207.56,332.40 208.20,332.42 208.85,332.44 209.49,332.46 210.13,332.48 210.77,332.50 211.42,332.52 212.06,332.54 212.70,332.56 213.35,332.58 213.99,332.61 214.63,332.63 215.27,332.65 215.92,332.67 216.56,332.69 217.20,332.71 217.85,332.74 218.49,332.76 219.13,332.78 219.77,332.80 220.42,332.83 221.06,332.85 221.70,332.87 222.35,332.89 222.99,332.92 223.63,332.94 224.27,332.96 224.92,332.99 225.56,333.01 226.20,333.03 226.84,333.06 227.49,333.08 228.13,333.10 228.77,333.13 229.42,333.15 230.06,333.18 230.70,333.20 231.34,333.22 231.99,333.25 232.63,333.27 233.27,333.30 233.92,333.32 234.56,333.35 235.20,333.37 235.84,333.40 236.49,333.42 237.13,333.45 237.77,333.47 238.42,333.50 239.06,333.52 239.70,333.55 240.34,333.57 240.99,333.60 241.63,333.62 242.27,333.65 242.91,333.68 243.56,333.70 244.20,333.73 244.84,333.76 245.49,333.78 246.13,333.81 246.77,333.83 247.41,333.86 248.06,333.89 248.70,333.92 249.34,333.94 249.99,333.97 250.63,334.00 251.27,334.02 251.91,334.05 252.56,334.08 253.20,334.11 253.84,334.13 254.49,334.16 255.13,334.19 255.77,334.22 256.41,334.25 257.06,334.28 257.70,334.30 258.34,334.33 258.98,334.36 259.63,334.39 260.27,334.42 260.91,334.45 261.56,334.48 262.20,334.51 262.84,334.53 263.48,334.56 264.13,334.59 264.77,334.62 265.41,334.65 266.06,334.68 266.70,334.71 267.34,334.74 267.98,334.77 268.63,334.80 269.27,334.83 269.91,334.86 270.56,334.89 271.20,334.92 271.84,334.95 272.48,334.98 273.13,335.02 273.77,335.05 274.41,335.08 275.06,335.11 275.70,335.14 276.34,335.17 276.98,335.20 277.63,335.23 278.27,335.27 278.91,335.30 279.55,335.33 280.20,335.36 280.84,335.39 281.48,335.43 282.13,335.46 282.77,335.49 283.41,335.52 284.05,335.56 284.70,335.59 285.34,335.62 285.98,335.65 286.63,335.69 287.27,335.72 287.91,335.75 288.55,335.79 289.20,335.82 289.84,335.85 290.48,335.89 291.13,335.92 291.77,335.95 292.41,335.99 293.05,336.02 293.70,336.06 294.34,336.09 294.98,336.13 295.62,336.16 296.27,336.19 296.91,336.23 297.55,336.26 298.20,336.30 298.84,336.33 299.48,336.37 300.12,336.40 300.77,336.44 301.41,336.47 302.05,336.51 302.70,336.55 303.34,336.58 303.98,336.62 304.62,336.65 305.27,336.69 305.91,336.72 306.55,336.76 307.20,336.80 307.84,336.83 308.48,336.87 309.12,336.91 309.77,336.94 310.41,336.98 311.05,337.02 311.69,337.05 312.34,337.09 312.98,337.13 313.62,337.17 314.27,337.20 314.91,337.24 315.55,337.28 316.19,337.32 316.84,337.35 317.48,337.39 318.12,337.43 318.77,337.47 319.41,337.51 320.05,337.54 320.69,337.58 321.34,337.62 321.98,337.66 322.62,337.70 323.27,337.74 323.91,337.78 324.55,337.81 325.19,337.85 325.84,337.89 326.48,337.93 327.12,337.97 327.76,338.01 328.41,338.05 329.05,338.09 329.69,338.13 330.34,338.17 330.98,338.21 331.62,338.25 332.26,338.29 332.91,338.33 333.55,338.37 334.19,338.41 334.84,338.45 335.48,338.49 336.12,338.54 336.76,338.58 337.41,338.62 338.05,338.66 338.69,338.70 339.34,338.74 339.98,338.78 340.62,338.82 341.26,338.87 341.91,338.91 342.55,338.95 343.19,338.99 343.84,339.03 344.48,339.08 345.12,339.12 345.76,339.16 346.41,339.20 347.05,339.25 347.69,339.29 348.33,339.33 348.98,339.37 349.62,339.42 350.26,339.46 350.91,339.50 351.55,339.55 352.19,339.59 352.83,339.63 353.48,339.68 354.12,339.72 354.76,339.76 355.41,339.81 356.05,339.85 356.69,339.90 357.33,339.94 357.98,339.99 358.62,340.03 359.26,340.07 359.91,340.12 360.55,340.16 361.19,340.21 361.83,340.25 362.48,340.30 363.12,340.34 363.76,340.39 364.40,340.43 365.05,340.48 365.69,340.53 366.33,340.57 366.98,340.62 367.62,340.66 368.26,340.71 368.90,340.76 369.55,340.80 370.19,340.85 370.83,340.89 371.48,340.94 372.12,340.99 372.76,341.03 373.40,341.08 374.05,341.13 374.69,341.17 375.33,341.22 375.98,341.27 376.62,341.32 377.26,341.36 377.90,341.41 378.55,341.46 379.19,341.51 379.83,341.55 380.47,341.60 381.12,341.65 381.76,341.70 382.40,341.75 383.05,341.80 383.69,341.84 384.33,341.89 384.97,341.94 385.62,341.99 386.26,342.04 386.90,342.09 387.55,342.14 388.19,342.19 388.83,342.23 389.47,342.28 390.12,342.33 390.76,342.38 391.40,342.43 392.05,342.48 392.69,342.53 393.33,342.58 393.97,342.63 394.62,342.68 395.26,342.73 395.90,342.78 396.54,342.83 397.19,342.88 397.83,342.94 398.47,342.99 399.12,343.04 399.76,343.09 400.40,343.14 401.04,343.19 401.69,343.24 402.33,343.29 402.97,343.34 403.62,343.40 404.26,343.45 404.90,343.50 405.54,343.55 406.19,343.60 406.83,343.66 407.47,343.71 408.12,343.76 408.76,343.81 409.40,343.87 410.04,343.92 410.69,343.97 411.33,344.02 411.97,344.08 412.62,344.13 413.26,344.18 413.90,344.24 414.54,344.29 415.19,344.34 415.83,344.40 416.47,344.45 417.11,344.50 417.76,344.56 418.40,344.61 419.04,344.67 419.69,344.72 420.33,344.77 420.97,344.83 421.61,344.88 422.26,344.94 422.90,344.99 423.54,345.05 424.19,345.10 424.83,345.16 425.47,345.21 426.11,345.27 426.76,345.32 427.40,345.38 428.04,345.43 428.69,345.49 429.33,345.54 429.97,345.60 430.61,345.66 431.26,345.71 431.90,345.77 432.54,345.82 433.18,345.88 433.83,345.94 434.47,345.99 435.11,346.05 435.76,346.11 436.40,346.16 437.04,346.22 437.68,346.28 438.33,346.34 438.97,346.39 439.61,346.45 440.26,346.51 440.90,346.57 441.54,346.62 442.18,346.68 442.83,346.74 443.47,346.80 444.11,346.85 444.76,346.91 445.40,346.97 446.04,347.03 446.68,347.09 447.33,347.15 447.97,347.20 448.61,347.26 449.25,347.32 449.90,347.38 450.54,347.44 451.18,347.50 451.83,347.56 452.47,347.62 453.11,347.68 453.75,347.74 454.40,347.80 455.04,347.86 455.68,347.92 456.33,347.98 456.97,348.04 457.61,348.10 458.25,348.16 458.90,348.22 459.54,348.28 460.18,348.34 460.83,348.40 461.47,348.46 462.11,348.52 462.75,348.58 463.40,348.64 464.04,348.71 464.68,348.77 465.32,348.83 465.97,348.89 466.61,348.95 467.25,349.01 467.90,349.07 468.54,349.14 469.18,349.20 469.82,349.26 470.47,349.32 471.11,349.39 471.75,349.45 472.40,349.51 473.04,349.57 473.68,349.64 474.32,349.70 474.97,349.76 475.61,349.82 476.25,349.89 476.90,349.95 477.54,350.01 478.18,350.08 478.82,350.14 479.47,350.21 480.11,350.27 480.75,350.33 481.39,350.40 482.04,350.46 482.68,350.53 483.32,350.59 483.97,350.65 484.61,350.72 485.25,350.78 485.89,350.85 486.54,350.91 487.18,350.98 487.82,351.04 488.47,351.11 489.11,351.17 489.75,351.24 490.39,351.30 491.04,351.37 491.68,351.43 492.32,351.50 492.97,351.57 493.61,351.63 494.25,351.70 494.89,351.76 495.54,351.83 496.18,351.90 496.82,351.96 497.47,352.03 498.11,352.10 498.75,352.16 499.39,352.23 500.04,352.30 500.68,352.36 501.32,352.43 501.96,352.50 502.61,352.57 503.25,352.63 503.89,352.70 504.54,352.77 505.18,352.84 505.82,352.90 506.46,352.97 507.11,353.04 507.75,353.11 508.39,353.18 509.04,353.25 509.68,353.31 510.32,353.38 510.96,353.45 511.61,353.52 512.25,353.59 512.89,353.66 513.54,353.73 514.18,353.80 514.82,353.87 515.46,353.94 516.11,354.00 516.75,354.07 517.39,354.14 518.03,354.21 518.68,354.28 519.32,354.35 519.96,354.42 520.61,354.49 521.25,354.56 521.89,354.64 522.53,354.71 523.18,354.78 523.82,354.85 524.46,354.92 525.11,354.99 525.75,355.06 526.39,355.13 527.03,355.20 527.68,355.27 528.32,355.35 528.96,355.42 529.61,355.49 530.25,355.56 530.89,355.63 531.53,355.70 532.18,355.78 532.82,355.85 533.46,355.92 534.10,355.99 534.75,356.07 535.39,356.14 536.03,356.21 536.68,356.28 537.32,356.36 537.96,356.43 538.60,356.50 539.25,356.58 539.89,356.65 540.53,356.72 541.18,356.80 541.82,356.87 542.46,356.94 543.10,357.02 543.75,357.09 544.39,357.17 545.03,357.24 545.68,357.31 546.32,357.39 546.96,357.46 547.60,357.54 548.25,357.61 548.89,357.69 549.53,357.76 550.17,357.84 550.82,357.91 551.46,357.99 552.10,358.06 552.75,358.14 553.39,358.21 554.03,358.29 554.67,358.36 555.32,358.44 555.96,358.52 556.60,358.59 557.25,358.67 557.89,358.74 558.53,358.82 559.17,358.90 559.82,358.97 560.46,359.05 561.10,359.13 561.75,359.20 562.39,359.28 563.03,359.36 563.67,359.43 564.32,359.51 564.96,359.59 565.60,359.67 566.25,359.74 566.89,359.82 567.53,359.90 568.17,359.98 568.82,360.05 569.46,360.13 570.10,360.21 570.74,360.29 571.39,360.37 572.03,360.44 572.67,360.52 573.32,360.60 573.96,360.68 574.60,360.76 575.24,360.84 575.89,360.92 576.53,361.00 577.17,361.08 577.82,361.16 578.46,361.23 579.10,361.31 579.74,361.39 580.39,361.47 581.03,361.55 581.67,361.63 582.32,361.71 582.96,361.79 583.60,361.87 584.24,361.95 584.89,362.03 585.53,362.12 586.17,362.20 586.81,362.28 587.46,362.36 588.10,362.44 588.74,362.52 589.39,362.60 590.03,362.68 590.67,362.76 591.31,362.85 591.96,362.93 592.60,363.01" stroke-width="1.8" stroke="#262626" stroke-dasharray="4.4 5.16" stroke-dashoffset="-0.6" stroke-linecap="round"/><polyline points="79.00,330.35 79.64,330.35 80.29,330.35 80.93,330.35 81.57,330.35 82.21,330.35 82.86,330.35 83.50,330.35 84.14,330.35 84.79,330.35 85.43,330.35 86.07,330.35 86.71,330.35 87.36,330.35 88.00,330.36 88.64,330.36 89.28,330.36 89.93,330.36 90.57,330.36 91.21,330.36 91.86,330.36 92.50,330.36 93.14,330.36 93.78,330.36 94.43,330.37 95.07,330.37 95.71,330.37 96.36,330.37 97.00,330.37 97.64,330.37 98.28,330.37 98.93,330.38 99.57,330.38 100.21,330.38 100.86,330.38 101.50,330.38 102.14,330.39 102.78,330.39 103.43,330.39 104.07,330.39 104.71,330.39 105.35,330.40 106.00,330.40 106.64,330.40 107.28,330.40 107.93,330.40 108.57,330.41 109.21,330.41 109.85,330.41 110.50,330.42 111.14,330.42 111.78,330.42 112.43,330.42 113.07,330.43 113.71,330.43 114.35,330.43 115.00,330.44 115.64,330.44 116.28,330.44 116.93,330.44 117.57,330.45 118.21,330.45 118.85,330.45 119.50,330.46 120.14,330.46 120.78,330.46 121.43,330.47 122.07,330.47 122.71,330.48 123.35,330.48 124.00,330.48 124.64,330.49 125.28,330.49 125.92,330.49 126.57,330.50 127.21,330.50 127.85,330.51 128.50,330.51 129.14,330.51 129.78,330.52 130.42,330.52 131.07,330.53 131.71,330.53 132.35,330.54 133.00,330.54 133.64,330.55 134.28,330.55 134.92,330.56 135.57,330.56 136.21,330.56 136.85,330.57 137.50,330.57 138.14,330.58 138.78,330.58 139.42,330.59 140.07,330.59 140.71,330.60 141.35,330.61 141.99,330.61 142.64,330.62 143.28,330.62 143.92,330.63 144.57,330.63 145.21,330.64 145.85,330.64 146.49,330.65 147.14,330.65 147.78,330.66 148.42,330.67 149.07,330.67 149.71,330.68 150.35,330.68 150.99,330.69 151.64,330.70 152.28,330.70 152.92,330.71 153.57,330.71 154.21,330.72 154.85,330.73 155.49,330.73 156.14,330.74 156.78,330.75 157.42,330.75 158.06,330.76 158.71,330.77 159.35,330.77 159.99,330.78 160.64,330.79 161.28,330.79 161.92,330.80 162.56,330.81 163.21,330.82 163.85,330.82 164.49,330.83 165.14,330.84 165.78,330.84 166.42,330.85 167.06,330.86 167.71,330.87 168.35,330.87 168.99,330.88 169.64,330.89 170.28,330.90 170.92,330.90 171.56,330.91 172.21,330.92 172.85,330.93 173.49,330.94 174.13,330.94 174.78,330.95 175.42,330.96 176.06,330.97 176.71,330.98 177.35,330.98 177.99,330.99 178.63,331.00 179.28,331.01 179.92,331.02 180.56,331.03 181.21,331.04 181.85,331.04 182.49,331.05 183.13,331.06 183.78,331.07 184.42,331.08 185.06,331.09 185.71,331.10 186.35,331.11 186.99,331.12 187.63,331.12 188.28,331.13 188.92,331.14 189.56,331.15 190.21,331.16 190.85,331.17 191.49,331.18 192.13,331.19 192.78,331.20 193.42,331.21 194.06,331.22 194.70,331.23 195.35,331.24 195.99,331.25 196.63,331.26 197.28,331.27 197.92,331.28 198.56,331.29 199.20,331.30 199.85,331.31 200.49,331.32 201.13,331.33 201.78,331.34 202.42,331.35 203.06,331.36 203.70,331.37 204.35,331.38 204.99,331.39 205.63,331.40 206.28,331.41 206.92,331.42 207.56,331.43 208.20,331.45 208.85,331.46 209.49,331.47 210.13,331.48 210.77,331.49 211.42,331.50 212.06,331.51 212.70,331.52 213.35,331.53 213.99,331.55 214.63,331.56 215.27,331.57 215.92,331.58 216.56,331.59 217.20,331.60 217.85,331.61 218.49,331.63 219.13,331.64 219.77,331.65 220.42,331.66 221.06,331.67 221.70,331.69 222.35,331.70 222.99,331.71 223.63,331.72 224.27,331.73 224.92,331.75 225.56,331.76 226.20,331.77 226.84,331.78 227.49,331.80 228.13,331.81 228.77,331.82 229.42,331.83 230.06,331.85 230.70,331.86 231.34,331.87 231.99,331.89 232.63,331.90 233.27,331.91 233.92,331.92 234.56,331.94 235.20,331.95 235.84,331.96 236.49,331.98 237.13,331.99 237.77,332.00 238.42,332.02 239.06,332.03 239.70,332.04 240.34,332.06 240.99,332.07 241.63,332.09 242.27,332.10 242.91,332.11 243.56,332.13 244.20,332.14 244.84,332.15 245.49,332.17 246.13,332.18 246.77,332.20 247.41,332.21 248.06,332.23 248.70,332.24 249.34,332.25 249.99,332.27 250.63,332.28 251.27,332.30 251.91,332.31 252.56,332.33 253.20,332.34 253.84,332.36 254.49,332.37 255.13,332.39 255.77,332.40 256.41,332.42 257.06,332.43 257.70,332.45 258.34,332.46 258.98,332.48 259.63,332.49 260.27,332.51 260.91,332.52 261.56,332.54 262.20,332.55 262.84,332.57 263.48,332.58 264.13,332.60 264.77,332.61 265.41,332.63 266.06,332.65 266.70,332.66 267.34,332.68 267.98,332.69 268.63,332.71 269.27,332.73 269.91,332.74 270.56,332.76 271.20,332.77 271.84,332.79 272.48,332.81 273.13,332.82 273.77,332.84 274.41,332.86 275.06,332.87 275.70,332.89 276.34,332.91 276.98,332.92 277.63,332.94 278.27,332.96 278.91,332.97 279.55,332.99 280.20,333.01 280.84,333.02 281.48,333.04 282.13,333.06 282.77,333.07 283.41,333.09 284.05,333.11 284.70,333.13 285.34,333.14 285.98,333.16 286.63,333.18 287.27,333.20 287.91,333.21 288.55,333.23 289.20,333.25 289.84,333.27 290.48,333.28 291.13,333.30 291.77,333.32 292.41,333.34 293.05,333.36 293.70,333.37 294.34,333.39 294.98,333.41 295.62,333.43 296.27,333.45 296.91,333.47 297.55,333.48 298.20,333.50 298.84,333.52 299.48,333.54 300.12,333.56 300.77,333.58 301.41,333.60 302.05,333.61 302.70,333.63 303.34,333.65 303.98,333.67 304.62,333.69 305.27,333.71 305.91,333.73 306.55,333.75 307.20,333.77 307.84,333.79 308.48,333.81 309.12,333.82 309.77,333.84 310.41,333.86 311.05,333.88 311.69,333.90 312.34,333.92 312.98,333.94 313.62,333.96 314.27,333.98 314.91,334.00 315.55,334.02 316.19,334.04 316.84,334.06 317.48,334.08 318.12,334.10 318.77,334.12 319.41,334.14 320.05,334.16 320.69,334.18 321.34,334.20 321.98,334.22 322.62,334.24 323.27,334.26 323.91,334.29 324.55,334.31 325.19,334.33 325.84,334.35 326.48,334.37 327.12,334.39 327.76,334.41 328.41,334.43 329.05,334.45 329.69,334.47 330.34,334.49 330.98,334.52 331.62,334.54 332.26,334.56 332.91,334.58 333.55,334.60 334.19,334.62 334.84,334.64 335.48,334.67 336.12,334.69 336.76,334.71 337.41,334.73 338.05,334.75 338.69,334.77 339.34,334.80 339.98,334.82 340.62,334.84 341.26,334.86 341.91,334.89 342.55,334.91 343.19,334.93 343.84,334.95 344.48,334.97 345.12,335.00 345.76,335.02 346.41,335.04 347.05,335.06 347.69,335.09 348.33,335.11 348.98,335.13 349.62,335.16 350.26,335.18 350.91,335.20 351.55,335.22 352.19,335.25 352.83,335.27 353.48,335.29 354.12,335.32 354.76,335.34 355.41,335.36 356.05,335.39 356.69,335.41 357.33,335.43 357.98,335.46 358.62,335.48 359.26,335.50 359.91,335.53 360.55,335.55 361.19,335.57 361.83,335.60 362.48,335.62 363.12,335.65 363.76,335.67 364.40,335.69 365.05,335.72 365.69,335.74 366.33,335.77 366.98,335.79 367.62,335.82 368.26,335.84 368.90,335.86 369.55,335.89 370.19,335.91 370.83,335.94 371.48,335.96 372.12,335.99 372.76,336.01 373.40,336.04 374.05,336.06 374.69,336.09 375.33,336.11 375.98,336.14 376.62,336.16 377.26,336.19 377.90,336.21 378.55,336.24 379.19,336.26 379.83,336.29 380.47,336.31 381.12,336.34 381.76,336.36 382.40,336.39 383.05,336.42 383.69,336.44 384.33,336.47 384.97,336.49 385.62,336.52 386.26,336.54 386.90,336.57 387.55,336.60 388.19,336.62 388.83,336.65 389.47,336.67 390.12,336.70 390.76,336.73 391.40,336.75 392.05,336.78 392.69,336.81 393.33,336.83 393.97,336.86 394.62,336.89 395.26,336.91 395.90,336.94 396.54,336.97 397.19,336.99 397.83,337.02 398.47,337.05 399.12,337.07 399.76,337.10 400.40,337.13 401.04,337.15 401.69,337.18 402.33,337.21 402.97,337.24 403.62,337.26 404.26,337.29 404.90,337.32 405.54,337.35 406.19,337.37 406.83,337.40 407.47,337.43 408.12,337.46 408.76,337.48 409.40,337.51 410.04,337.54 410.69,337.57 411.33,337.60 411.97,337.62 412.62,337.65 413.26,337.68 413.90,337.71 414.54,337.74 415.19,337.77 415.83,337.79 416.47,337.82 417.11,337.85 417.76,337.88 418.40,337.91 419.04,337.94 419.69,337.97 420.33,337.99 420.97,338.02 421.61,338.05 422.26,338.08 422.90,338.11 423.54,338.14 424.19,338.17 424.83,338.20 425.47,338.23 426.11,338.26 426.76,338.28 427.40,338.31 428.04,338.34 428.69,338.37 429.33,338.40 429.97,338.43 430.61,338.46 431.26,338.49 431.90,338.52 432.54,338.55 433.18,338.58 433.83,338.61 434.47,338.64 435.11,338.67 435.76,338.70 436.40,338.73 437.04,338.76 437.68,338.79 438.33,338.82 438.97,338.85 439.61,338.88 440.26,338.91 440.90,338.94 441.54,338.97 442.18,339.00 442.83,339.04 443.47,339.07 444.11,339.10 444.76,339.13 445.40,339.16 446.04,339.19 446.68,339.22 447.33,339.25 447.97,339.28 448.61,339.31 449.25,339.34 449.90,339.38 450.54,339.41 451.18,339.44 451.83,339.47 452.47,339.50 453.11,339.53 453.75,339.56 454.40,339.60 455.04,339.63 455.68,339.66 456.33,339.69 456.97,339.72 457.61,339.76 458.25,339.79 458.90,339.82 459.54,339.85 460.18,339.88 460.83,339.92 461.47,339.95 462.11,339.98 462.75,340.01 463.40,340.04 464.04,340.08 464.68,340.11 465.32,340.14 465.97,340.18 466.61,340.21 467.25,340.24 467.90,340.27 468.54,340.31 469.18,340.34 469.82,340.37 470.47,340.40 471.11,340.44 471.75,340.47 472.40,340.50 473.04,340.54 473.68,340.57 474.32,340.60 474.97,340.64 475.61,340.67 476.25,340.70 476.90,340.74 477.54,340.77 478.18,340.80 478.82,340.84 479.47,340.87 480.11,340.91 480.75,340.94 481.39,340.97 482.04,341.01 482.68,341.04 483.32,341.08 483.97,341.11 484.61,341.14 485.25,341.18 485.89,341.21 486.54,341.25 487.18,341.28 487.82,341.32 488.47,341.35 489.11,341.39 489.75,341.42 490.39,341.45 491.04,341.49 491.68,341.52 492.32,341.56 492.97,341.59 493.61,341.63 494.25,341.66 494.89,341.70 495.54,341.73 496.18,341.77 496.82,341.80 497.47,341.84 498.11,341.87 498.75,341.91 499.39,341.95 500.04,341.98 500.68,342.02 501.32,342.05 501.96,342.09 502.61,342.12 503.25,342.16 503.89,342.20 504.54,342.23 505.18,342.27 505.82,342.30 506.46,342.34 507.11,342.38 507.75,342.41 508.39,342.45 509.04,342.48 509.68,342.52 510.32,342.56 510.96,342.59 511.61,342.63 512.25,342.67 512.89,342.70 513.54,342.74 514.18,342.78 514.82,342.81 515.46,342.85 516.11,342.89 516.75,342.92 517.39,342.96 518.03,343.00 518.68,343.03 519.32,343.07 519.96,343.11 520.61,343.15 521.25,343.18 521.89,343.22 522.53,343.26 523.18,343.29 523.82,343.33 524.46,343.37 525.11,343.41 525.75,343.45 526.39,343.48 527.03,343.52 527.68,343.56 528.32,343.60 528.96,343.63 529.61,343.67 530.25,343.71 530.89,343.75 531.53,343.79 532.18,343.82 532.82,343.86 533.46,343.90 534.10,343.94 534.75,343.98 535.39,344.02 536.03,344.06 536.68,344.09 537.32,344.13 537.96,344.17 538.60,344.21 539.25,344.25 539.89,344.29 540.53,344.33 541.18,344.37 541.82,344.40 542.46,344.44 543.10,344.48 543.75,344.52 544.39,344.56 545.03,344.60 545.68,344.64 546.32,344.68 546.96,344.72 547.60,344.76 548.25,344.80 548.89,344.84 549.53,344.88 550.17,344.92 550.82,344.96 551.46,345.00 552.10,345.04 552.75,345.08 553.39,345.12 554.03,345.16 554.67,345.20 555.32,345.24 555.96,345.28 556.60,345.32 557.25,345.36 557.89,345.40 558.53,345.44 559.17,345.48 559.82,345.52 560.46,345.56 561.10,345.60 561.75,345.64 562.39,345.68 563.03,345.72 563.67,345.76 564.32,345.80 564.96,345.84 565.60,345.89 566.25,345.93 566.89,345.97 567.53,346.01 568.17,346.05 568.82,346.09 569.46,346.13 570.10,346.17 570.74,346.22 571.39,346.26 572.03,346.30 572.67,346.34 573.32,346.38 573.96,346.42 574.60,346.47 575.24,346.51 575.89,346.55 576.53,346.59 577.17,346.63 577.82,346.68 578.46,346.72 579.10,346.76 579.74,346.80 580.39,346.84 581.03,346.89 581.67,346.93 582.32,346.97 582.96,347.01 583.60,347.06 584.24,347.10 584.89,347.14 585.53,347.18 586.17,347.23 586.81,347.27 587.46,347.31 588.10,347.36 588.74,347.40 589.39,347.44 590.03,347.48 590.67,347.53 591.31,347.57 591.96,347.61 592.60,347.66" stroke-width="3.2" stroke-dasharray="7 12.12" stroke-dashoffset="-0.9" stroke-linecap="round"/><polyline points="79.00,330.35 79.64,330.35 80.29,330.35 80.93,330.35 81.57,330.35 82.21,330.35 82.86,330.35 83.50,330.35 84.14,330.34 84.79,330.34 85.43,330.34 86.07,330.34 86.71,330.34 87.36,330.34 88.00,330.33 88.64,330.33 89.28,330.33 89.93,330.33 90.57,330.32 91.21,330.32 91.86,330.32 92.50,330.32 93.14,330.31 93.78,330.31 94.43,330.30 95.07,330.30 95.71,330.30 96.36,330.29 97.00,330.29 97.64,330.28 98.28,330.28 98.93,330.27 99.57,330.27 100.21,330.26 100.86,330.26 101.50,330.25 102.14,330.25 102.78,330.24 103.43,330.24 104.07,330.23 104.71,330.22 105.35,330.22 106.00,330.21 106.64,330.20 107.28,330.20 107.93,330.19 108.57,330.18 109.21,330.18 109.85,330.17 110.50,330.16 111.14,330.15 111.78,330.15 112.43,330.14 113.07,330.13 113.71,330.12 114.35,330.11 115.00,330.10 115.64,330.09 116.28,330.09 116.93,330.08 117.57,330.07 118.21,330.06 118.85,330.05 119.50,330.04 120.14,330.03 120.78,330.02 121.43,330.01 122.07,330.00 122.71,329.99 123.35,329.98 124.00,329.96 124.64,329.95 125.28,329.94 125.92,329.93 126.57,329.92 127.21,329.91 127.85,329.90 128.50,329.88 129.14,329.87 129.78,329.86 130.42,329.85 131.07,329.83 131.71,329.82 132.35,329.81 133.00,329.79 133.64,329.78 134.28,329.77 134.92,329.75 135.57,329.74 136.21,329.73 136.85,329.71 137.50,329.70 138.14,329.68 138.78,329.67 139.42,329.65 140.07,329.64 140.71,329.62 141.35,329.61 141.99,329.59 142.64,329.58 143.28,329.56 143.92,329.55 144.57,329.53 145.21,329.51 145.85,329.50 146.49,329.48 147.14,329.47 147.78,329.45 148.42,329.43 149.07,329.41 149.71,329.40 150.35,329.38 150.99,329.36 151.64,329.34 152.28,329.33 152.92,329.31 153.57,329.29 154.21,329.27 154.85,329.25 155.49,329.23 156.14,329.22 156.78,329.20 157.42,329.18 158.06,329.16 158.71,329.14 159.35,329.12 159.99,329.10 160.64,329.08 161.28,329.06 161.92,329.04 162.56,329.02 163.21,329.00 163.85,328.98 164.49,328.96 165.14,328.94 165.78,328.91 166.42,328.89 167.06,328.87 167.71,328.85 168.35,328.83 168.99,328.81 169.64,328.78 170.28,328.76 170.92,328.74 171.56,328.72 172.21,328.69 172.85,328.67 173.49,328.65 174.13,328.63 174.78,328.60 175.42,328.58 176.06,328.55 176.71,328.53 177.35,328.51 177.99,328.48 178.63,328.46 179.28,328.43 179.92,328.41 180.56,328.38 181.21,328.36 181.85,328.33 182.49,328.31 183.13,328.28 183.78,328.26 184.42,328.23 185.06,328.21 185.71,328.18 186.35,328.15 186.99,328.13 187.63,328.10 188.28,328.07 188.92,328.05 189.56,328.02 190.21,327.99 190.85,327.97 191.49,327.94 192.13,327.91 192.78,327.88 193.42,327.86 194.06,327.83 194.70,327.80 195.35,327.77 195.99,327.74 196.63,327.71 197.28,327.68 197.92,327.66 198.56,327.63 199.20,327.60 199.85,327.57 200.49,327.54 201.13,327.51 201.78,327.48 202.42,327.45 203.06,327.42 203.70,327.39 204.35,327.36 204.99,327.33 205.63,327.29 206.28,327.26 206.92,327.23 207.56,327.20 208.20,327.17 208.85,327.14 209.49,327.11 210.13,327.07 210.77,327.04 211.42,327.01 212.06,326.98 212.70,326.94 213.35,326.91 213.99,326.88 214.63,326.84 215.27,326.81 215.92,326.78 216.56,326.74 217.20,326.71 217.85,326.68 218.49,326.64 219.13,326.61 219.77,326.57 220.42,326.54 221.06,326.50 221.70,326.47 222.35,326.43 222.99,326.40 223.63,326.36 224.27,326.33 224.92,326.29 225.56,326.26 226.20,326.22 226.84,326.18 227.49,326.15 228.13,326.11 228.77,326.08 229.42,326.04 230.06,326.00 230.70,325.96 231.34,325.93 231.99,325.89 232.63,325.85 233.27,325.81 233.92,325.78 234.56,325.74 235.20,325.70 235.84,325.66 236.49,325.62 237.13,325.59 237.77,325.55 238.42,325.51 239.06,325.47 239.70,325.43 240.34,325.39 240.99,325.35 241.63,325.31 242.27,325.27 242.91,325.23 243.56,325.19 244.20,325.15 244.84,325.11 245.49,325.07 246.13,325.03 246.77,324.99 247.41,324.95 248.06,324.90 248.70,324.86 249.34,324.82 249.99,324.78 250.63,324.74 251.27,324.69 251.91,324.65 252.56,324.61 253.20,324.57 253.84,324.52 254.49,324.48 255.13,324.44 255.77,324.40 256.41,324.35 257.06,324.31 257.70,324.26 258.34,324.22 258.98,324.18 259.63,324.13 260.27,324.09 260.91,324.04 261.56,324.00 262.20,323.95 262.84,323.91 263.48,323.86 264.13,323.82 264.77,323.77 265.41,323.73 266.06,323.68 266.70,323.64 267.34,323.59 267.98,323.54 268.63,323.50 269.27,323.45 269.91,323.40 270.56,323.36 271.20,323.31 271.84,323.26 272.48,323.22 273.13,323.17 273.77,323.12 274.41,323.07 275.06,323.03 275.70,322.98 276.34,322.93 276.98,322.88 277.63,322.83 278.27,322.78 278.91,322.73 279.55,322.69 280.20,322.64 280.84,322.59 281.48,322.54 282.13,322.49 282.77,322.44 283.41,322.39 284.05,322.34 284.70,322.29 285.34,322.24 285.98,322.19 286.63,322.14 287.27,322.08 287.91,322.03 288.55,321.98 289.20,321.93 289.84,321.88 290.48,321.83 291.13,321.78 291.77,321.72 292.41,321.67 293.05,321.62 293.70,321.57 294.34,321.51 294.98,321.46 295.62,321.41 296.27,321.35 296.91,321.30 297.55,321.25 298.20,321.19 298.84,321.14 299.48,321.09 300.12,321.03 300.77,320.98 301.41,320.92 302.05,320.87 302.70,320.81 303.34,320.76 303.98,320.70 304.62,320.65 305.27,320.59 305.91,320.54 306.55,320.48 307.20,320.43 307.84,320.37 308.48,320.31 309.12,320.26 309.77,320.20 310.41,320.15 311.05,320.09 311.69,320.03 312.34,319.97 312.98,319.92 313.62,319.86 314.27,319.80 314.91,319.74 315.55,319.69 316.19,319.63 316.84,319.57 317.48,319.51 318.12,319.45 318.77,319.40 319.41,319.34 320.05,319.28 320.69,319.22 321.34,319.16 321.98,319.10 322.62,319.04 323.27,318.98 323.91,318.92 324.55,318.86 325.19,318.80 325.84,318.74 326.48,318.68 327.12,318.62 327.76,318.56 328.41,318.50 329.05,318.44 329.69,318.37 330.34,318.31 330.98,318.25 331.62,318.19 332.26,318.13 332.91,318.06 333.55,318.00 334.19,317.94 334.84,317.88 335.48,317.81 336.12,317.75 336.76,317.69 337.41,317.63 338.05,317.56 338.69,317.50 339.34,317.43 339.98,317.37 340.62,317.31 341.26,317.24 341.91,317.18 342.55,317.11 343.19,317.05 343.84,316.98 344.48,316.92 345.12,316.85 345.76,316.79 346.41,316.72 347.05,316.66 347.69,316.59 348.33,316.53 348.98,316.46 349.62,316.39 350.26,316.33 350.91,316.26 351.55,316.19 352.19,316.13 352.83,316.06 353.48,315.99 354.12,315.93 354.76,315.86 355.41,315.79 356.05,315.72 356.69,315.66 357.33,315.59 357.98,315.52 358.62,315.45 359.26,315.38 359.91,315.31 360.55,315.24 361.19,315.18 361.83,315.11 362.48,315.04 363.12,314.97 363.76,314.90 364.40,314.83 365.05,314.76 365.69,314.69 366.33,314.62 366.98,314.55 367.62,314.48 368.26,314.41 368.90,314.33 369.55,314.26 370.19,314.19 370.83,314.12 371.48,314.05 372.12,313.98 372.76,313.91 373.40,313.83 374.05,313.76 374.69,313.69 375.33,313.62 375.98,313.54 376.62,313.47 377.26,313.40 377.90,313.32 378.55,313.25 379.19,313.18 379.83,313.10 380.47,313.03 381.12,312.96 381.76,312.88 382.40,312.81 383.05,312.73 383.69,312.66 384.33,312.58 384.97,312.51 385.62,312.43 386.26,312.36 386.90,312.28 387.55,312.21 388.19,312.13 388.83,312.06 389.47,311.98 390.12,311.90 390.76,311.83 391.40,311.75 392.05,311.68 392.69,311.60 393.33,311.52 393.97,311.44 394.62,311.37 395.26,311.29 395.90,311.21 396.54,311.13 397.19,311.06 397.83,310.98 398.47,310.90 399.12,310.82 399.76,310.74 400.40,310.67 401.04,310.59 401.69,310.51 402.33,310.43 402.97,310.35 403.62,310.27 404.26,310.19 404.90,310.11 405.54,310.03 406.19,309.95 406.83,309.87 407.47,309.79 408.12,309.71 408.76,309.63 409.40,309.55 410.04,309.47 410.69,309.39 411.33,309.30 411.97,309.22 412.62,309.14 413.26,309.06 413.90,308.98 414.54,308.89 415.19,308.81 415.83,308.73 416.47,308.65 417.11,308.56 417.76,308.48 418.40,308.40 419.04,308.32 419.69,308.23 420.33,308.15 420.97,308.06 421.61,307.98 422.26,307.90 422.90,307.81 423.54,307.73 424.19,307.64 424.83,307.56 425.47,307.47 426.11,307.39 426.76,307.30 427.40,307.22 428.04,307.13 428.69,307.05 429.33,306.96 429.97,306.88 430.61,306.79 431.26,306.70 431.90,306.62 432.54,306.53 433.18,306.44 433.83,306.36 434.47,306.27 435.11,306.18 435.76,306.10 436.40,306.01 437.04,305.92 437.68,305.83 438.33,305.75 438.97,305.66 439.61,305.57 440.26,305.48 440.90,305.39 441.54,305.30 442.18,305.21 442.83,305.13 443.47,305.04 444.11,304.95 444.76,304.86 445.40,304.77 446.04,304.68 446.68,304.59 447.33,304.50 447.97,304.41 448.61,304.32 449.25,304.23 449.90,304.14 450.54,304.04 451.18,303.95 451.83,303.86 452.47,303.77 453.11,303.68 453.75,303.59 454.40,303.50 455.04,303.40 455.68,303.31 456.33,303.22 456.97,303.13 457.61,303.03 458.25,302.94 458.90,302.85 459.54,302.75 460.18,302.66 460.83,302.57 461.47,302.47 462.11,302.38 462.75,302.29 463.40,302.19 464.04,302.10 464.68,302.00 465.32,301.91 465.97,301.81 466.61,301.72 467.25,301.62 467.90,301.53 468.54,301.43 469.18,301.34 469.82,301.24 470.47,301.15 471.11,301.05 471.75,300.96 472.40,300.86 473.04,300.76 473.68,300.67 474.32,300.57 474.97,300.47 475.61,300.37 476.25,300.28 476.90,300.18 477.54,300.08 478.18,299.99 478.82,299.89 479.47,299.79 480.11,299.69 480.75,299.59 481.39,299.49 482.04,299.40 482.68,299.30 483.32,299.20 483.97,299.10 484.61,299.00 485.25,298.90 485.89,298.80 486.54,298.70 487.18,298.60 487.82,298.50 488.47,298.40 489.11,298.30 489.75,298.20 490.39,298.10 491.04,298.00 491.68,297.90 492.32,297.80 492.97,297.69 493.61,297.59 494.25,297.49 494.89,297.39 495.54,297.29 496.18,297.19 496.82,297.08 497.47,296.98 498.11,296.88 498.75,296.78 499.39,296.67 500.04,296.57 500.68,296.47 501.32,296.36 501.96,296.26 502.61,296.16 503.25,296.05 503.89,295.95 504.54,295.84 505.18,295.74 505.82,295.63 506.46,295.53 507.11,295.42 507.75,295.32 508.39,295.21 509.04,295.11 509.68,295.00 510.32,294.90 510.96,294.79 511.61,294.69 512.25,294.58 512.89,294.47 513.54,294.37 514.18,294.26 514.82,294.15 515.46,294.05 516.11,293.94 516.75,293.83 517.39,293.73 518.03,293.62 518.68,293.51 519.32,293.40 519.96,293.30 520.61,293.19 521.25,293.08 521.89,292.97 522.53,292.86 523.18,292.75 523.82,292.64 524.46,292.54 525.11,292.43 525.75,292.32 526.39,292.21 527.03,292.10 527.68,291.99 528.32,291.88 528.96,291.77 529.61,291.66 530.25,291.55 530.89,291.44 531.53,291.33 532.18,291.21 532.82,291.10 533.46,290.99 534.10,290.88 534.75,290.77 535.39,290.66 536.03,290.55 536.68,290.43 537.32,290.32 537.96,290.21 538.60,290.10 539.25,289.98 539.89,289.87 540.53,289.76 541.18,289.65 541.82,289.53 542.46,289.42 543.10,289.30 543.75,289.19 544.39,289.08 545.03,288.96 545.68,288.85 546.32,288.73 546.96,288.62 547.60,288.50 548.25,288.39 548.89,288.27 549.53,288.16 550.17,288.04 550.82,287.93 551.46,287.81 552.10,287.70 552.75,287.58 553.39,287.47 554.03,287.35 554.67,287.23 555.32,287.12 555.96,287.00 556.60,286.88 557.25,286.77 557.89,286.65 558.53,286.53 559.17,286.41 559.82,286.30 560.46,286.18 561.10,286.06 561.75,285.94 562.39,285.82 563.03,285.70 563.67,285.59 564.32,285.47 564.96,285.35 565.60,285.23 566.25,285.11 566.89,284.99 567.53,284.87 568.17,284.75 568.82,284.63 569.46,284.51 570.10,284.39 570.74,284.27 571.39,284.15 572.03,284.03 572.67,283.91 573.32,283.79 573.96,283.67 574.60,283.54 575.24,283.42 575.89,283.30 576.53,283.18 577.17,283.06 577.82,282.94 578.46,282.81 579.10,282.69 579.74,282.57 580.39,282.45 581.03,282.32 581.67,282.20 582.32,282.08 582.96,281.95 583.60,281.83 584.24,281.71 584.89,281.58 585.53,281.46 586.17,281.33 586.81,281.21 587.46,281.08 588.10,280.96 588.74,280.84 589.39,280.71 590.03,280.59 590.67,280.46 591.31,280.33 591.96,280.21 592.60,280.08" stroke-width="3.2"/></g>
<text x="72.5" y="17.4" font-size="20.4" text-anchor="end">0.1</text>
<text x="72.5" y="93.37" font-size="20.4" text-anchor="end">0</text>
<text x="72.5" y="169.37" font-size="20.4" text-anchor="end">-0.1</text>
<text x="78.2" y="187.6" font-size="20.4" text-anchor="middle">0</text>
<text x="181.15" y="187.6" font-size="20.4" text-anchor="middle">200</text>
<text x="283.89" y="187.6" font-size="20.4" text-anchor="middle">400</text>
<text x="387.5" y="187.6" font-size="20.4" text-anchor="middle">600</text>
<text x="490.3" y="187.6" font-size="20.4" text-anchor="middle">800</text>
<text x="593.5" y="187.6" font-size="20.4" text-anchor="middle">1000</text>
<text x="72.5" y="262.57" font-size="20.4" text-anchor="end">0.01</text>
<text x="72.5" y="338.67" font-size="20.4" text-anchor="end">0</text>
<text x="72.5" y="414.17" font-size="20.4" text-anchor="end">-0.01</text>
<text x="78.4" y="432.5" font-size="20.4" text-anchor="middle">0</text>
<text x="181.45" y="432.5" font-size="20.4" text-anchor="middle">20</text>
<text x="283.95" y="432.5" font-size="20.4" text-anchor="middle">40</text>
<text x="387.45" y="432.5" font-size="20.4" text-anchor="middle">60</text>
<text x="490.3" y="432.5" font-size="20.4" text-anchor="middle">80</text>
<text x="593.7" y="432.5" font-size="20.4" text-anchor="middle">100</text>
<text x="283.3" y="214.8" font-size="22.8">P</text>
<text x="298.6" y="225.6" font-size="16.4" textLength="27.3" lengthAdjust="spacingAndGlyphs">IGL</text>
<text x="333.0" y="215.0" font-size="21.5" textLength="56.5" lengthAdjust="spacingAndGlyphs">(Torr)</text>
<text x="283.3" y="459.9" font-size="22.8">P</text>
<text x="298.6" y="470.7" font-size="16.4" textLength="27.3" lengthAdjust="spacingAndGlyphs">IGL</text>
<text x="333.0" y="460.1" font-size="21.5" textLength="56.5" lengthAdjust="spacingAndGlyphs">(Torr)</text>
<text transform="translate(28.9,131.2) rotate(-90)" font-size="21.4" textLength="16.5" lengthAdjust="spacingAndGlyphs">Δ</text>
<text transform="translate(28.9,113.7) rotate(-90)" font-size="21.4" textLength="75.0" lengthAdjust="spacingAndGlyphs">P (Torr)</text>
<text transform="translate(17.7,376.3) rotate(-90)" font-size="21.4" textLength="16.5" lengthAdjust="spacingAndGlyphs">Δ</text>
<text transform="translate(17.7,358.8) rotate(-90)" font-size="21.4" textLength="75.0" lengthAdjust="spacingAndGlyphs">P (Torr)</text>
<rect x="61.66" y="2.10" width="11.02" height="16.90" fill="#fff"/>
<path d="M68.38,17.40 L66.52,17.40 L66.52,5.90 L62.90,8.40 L62.90,6.50 L67.05,3.50 L68.38,3.50 Z" fill="#000" stroke="#000" stroke-width="0.45" stroke-linejoin="miter"/>
<rect x="61.66" y="154.07" width="11.02" height="16.90" fill="#fff"/>
<path d="M68.38,169.37 L66.52,169.37 L66.52,157.87 L62.90,160.37 L62.90,158.47 L67.05,155.47 L68.38,155.47 Z" fill="#000" stroke="#000" stroke-width="0.45" stroke-linejoin="miter"/>
<rect x="571.32" y="172.30" width="11.02" height="16.90" fill="#fff"/>
<path d="M578.63,187.60 L576.77,187.60 L576.77,176.10 L573.15,178.60 L573.15,176.70 L577.30,173.70 L578.63,173.70 Z" fill="#000" stroke="#000" stroke-width="0.45" stroke-linejoin="miter"/>
<rect x="61.66" y="247.27" width="11.02" height="16.90" fill="#fff"/>
<path d="M68.38,262.57 L66.52,262.57 L66.52,251.07 L62.90,253.57 L62.90,251.67 L67.05,248.67 L68.38,248.67 Z" fill="#000" stroke="#000" stroke-width="0.45" stroke-linejoin="miter"/>
<rect x="61.66" y="398.87" width="11.02" height="16.90" fill="#fff"/>
<path d="M68.38,414.17 L66.52,414.17 L66.52,402.67 L62.90,405.17 L62.90,403.27 L67.05,400.27 L68.38,400.27 Z" fill="#000" stroke="#000" stroke-width="0.45" stroke-linejoin="miter"/>
<rect x="577.19" y="417.20" width="11.02" height="16.90" fill="#fff"/>
<path d="M583.83,432.50 L581.97,432.50 L581.97,421.00 L578.35,423.50 L578.35,421.60 L582.50,418.60 L583.83,418.60 Z" fill="#000" stroke="#000" stroke-width="0.45" stroke-linejoin="miter"/>
</svg></body></html>
